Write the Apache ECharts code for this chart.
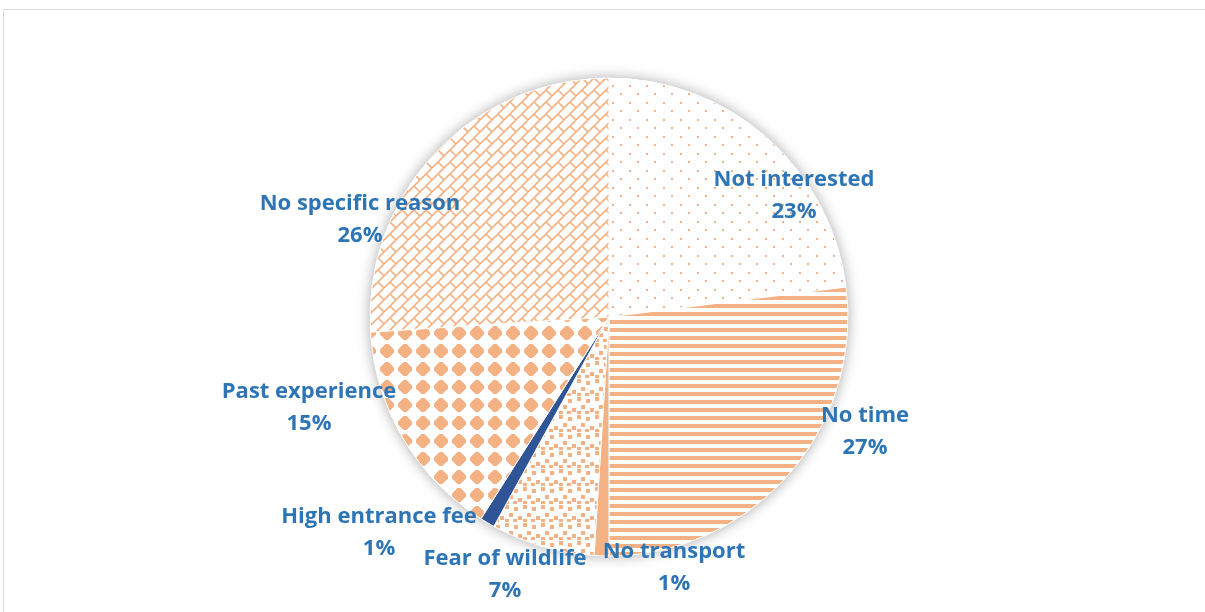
<!DOCTYPE html>
<html>
<head>
<meta charset="utf-8">
<script src="https://cdn.jsdelivr.net/npm/echarts@6/dist/echarts.min.js"></script>
<style>
  html, body { margin: 0; padding: 0; background: #fff; }
  #chart { width: 1205px; height: 612px; }
</style>
</head>
<body>
<div id="chart"></div>
<script>
// Reasons for not visiting, share of respondents (%)
const reasons = ['Not interested', 'No time', 'No transport', 'Fear of wildlife',
                 'High entrance fee', 'Past experience', 'No specific reason'];
const shares = [23, 27, 1, 7, 1, 15, 26];

// Label block placement, offset from the pie centre (px)
const labelOffsets = [[185, -121], [256, 115], [65, 251], [-104, 258],
                      [-230, 216], [-300, 91], [-249, -97]];

const ORANGE = '#F4B183';
const NAVY = '#2F5597';
const LABEL_BLUE = '#2E75B6';
const CX = 609, CY = 317, R = 239;

function tile(w, h, draw) {
  const c = document.createElement('canvas');
  c.width = w; c.height = h;
  const g = c.getContext('2d');
  g.fillStyle = '#fff';
  g.fillRect(0, 0, w, h);
  g.fillStyle = ORANGE;
  g.strokeStyle = ORANGE;
  draw(g);
  return { image: c, repeat: 'repeat' };
}

// sparse staggered dots
const dotFill = tile(17, 17, g => {
  g.fillRect(0, 0, 2, 2);
  g.fillRect(8, 8, 2, 2);
});
// horizontal stripes
const stripeFill = tile(8, 8, g => {
  g.fillRect(0, 0, 8, 4);
});
// small confetti squares
const confettiFill = tile(18, 18, g => {
  [[1, 1], [10, 3], [5, 9], [14, 12], [1, 15], [9, 15]].forEach(p => g.fillRect(p[0], p[1], 4, 4));
});
// solid diamonds with blunt tips
const diamondFill = tile(18, 18, g => {
  g.beginPath();
  g.moveTo(7.5, 2); g.lineTo(10.5, 2); g.lineTo(16, 7.5); g.lineTo(16, 10.5);
  g.lineTo(10.5, 16); g.lineTo(7.5, 16); g.lineTo(2, 10.5); g.lineTo(2, 7.5);
  g.closePath();
  g.fill();
});
// diagonal brick lattice
const brickFill = tile(12, 12, g => {
  g.lineWidth = 1.6;
  g.beginPath();
  g.moveTo(-1, 13); g.lineTo(13, -1);
  g.moveTo(6, 6); g.lineTo(12, 12);
  g.moveTo(0, 0); g.lineTo(0.5, 0.5);
  g.stroke();
});

const fills = [dotFill, stripeFill, ORANGE, confettiFill, NAVY, diamondFill, brickFill];

const chart = echarts.init(document.getElementById('chart'));
chart.setOption({
  animation: false,
  graphic: [{
    type: 'rect',
    shape: { x: 3.5, y: 9.5, width: 1220, height: 620 },
    style: { fill: 'none', stroke: '#D9D9D9', lineWidth: 1 },
    silent: true,
    z: -10
  }],
  series: [
    {
      // soft shadow beneath the pie
      type: 'pie',
      center: [CX, CY],
      radius: R,
      silent: true,
      z: 1,
      label: { show: false },
      labelLine: { show: false },
      itemStyle: { color: '#fff', shadowBlur: 14, shadowColor: 'rgba(0,0,0,0.35)' },
      data: [{ value: 1, name: '' }]
    },
    {
      type: 'pie',
      center: [CX, CY],
      radius: R,
      startAngle: 90,
      clockwise: true,
      z: 2,
      avoidLabelOverlap: false,
      itemStyle: { borderColor: '#fff', borderWidth: 1 },
      label: {
        show: true,
        position: 'outside',
        formatter: '{b}\n{c}%',
        color: LABEL_BLUE,
        fontFamily: 'Open Sans',
        fontWeight: 'bold',
        fontSize: 22,
        lineHeight: 32,
        align: 'center'
      },
      labelLine: { show: false },
      labelLayout: function (params) {
        const o = labelOffsets[params.dataIndex];
        return { x: CX + o[0], y: CY + o[1], align: 'center', verticalAlign: 'middle', hideOverlap: false };
      },
      data: reasons.map((name, i) => ({
        name: name,
        value: shares[i],
        itemStyle: { color: fills[i] }
      }))
    }
  ]
});
</script>
</body>
</html>
